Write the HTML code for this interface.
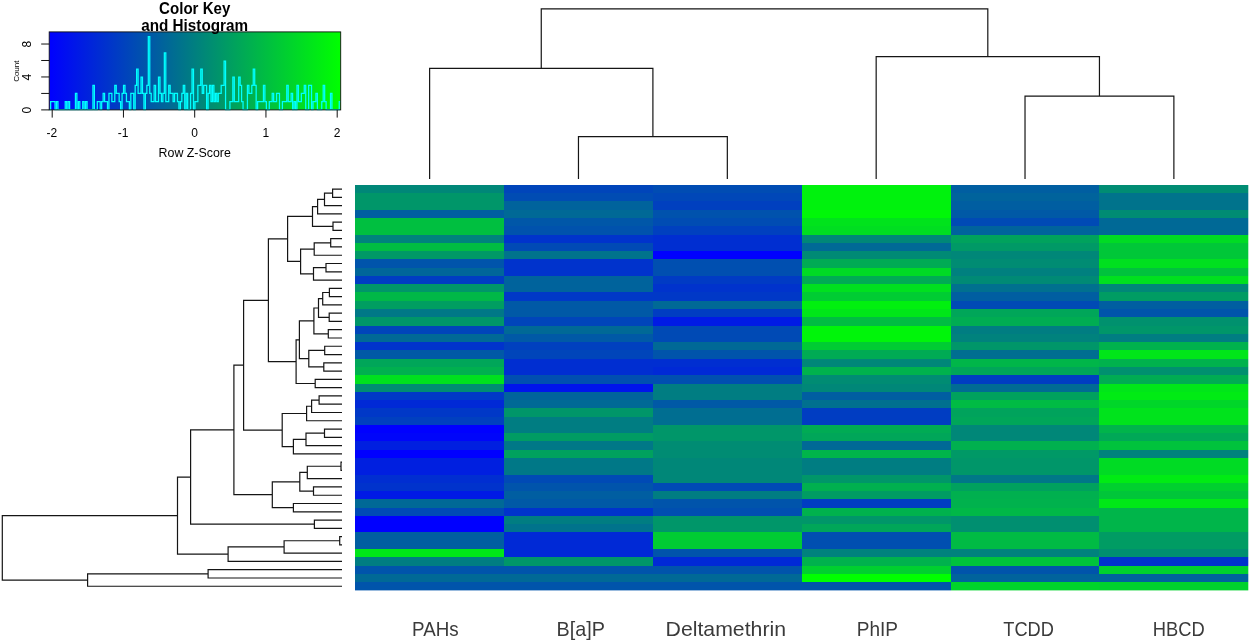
<!DOCTYPE html>
<html><head><meta charset="utf-8"><title>Heatmap</title>
<style>html,body{margin:0;padding:0;background:#fff;}body{width:1250px;height:641px;position:relative;overflow:hidden;font-family:"Liberation Sans",sans-serif;}</style></head>
<body>
<svg width="1250" height="641" viewBox="0 0 1250 641" style="position:absolute;left:0;top:0;will-change:transform">
<defs><linearGradient id="kg" x1="0" x2="1" y1="0" y2="0"><stop offset="0" stop-color="rgb(0,0,255)"/><stop offset="1" stop-color="rgb(0,255,0)"/></linearGradient></defs>
<rect x="49.2" y="31.9" width="291.5" height="78.0" fill="url(#kg)"/>
<path d="M49.20,109.60V109.60H50.66V101.50H52.12V101.50H53.57V101.50H55.03V109.60H56.49V101.50H57.95V109.60H59.40V109.60H60.86V109.60H62.32V109.60H63.78V109.60H65.23V101.50H66.69V109.60H68.15V101.50H69.61V109.60H71.06V109.60H72.52V109.60H73.98V109.60H75.44V93.40H76.89V109.60H78.35V101.50H79.81V109.60H81.27V109.60H82.72V101.50H84.18V109.60H85.64V101.50H87.09V109.60H88.55V109.60H90.01V109.60H91.47V109.60H92.92V85.30H94.38V109.60H95.84V109.60H97.30V101.50H98.76V101.50H100.21V109.60H101.67V101.50H103.13V93.40H104.58V101.50H106.04V101.50H107.50V109.60H108.96V93.40H110.42V93.40H111.87V101.50H113.33V101.50H114.79V85.30H116.25V93.40H117.70V93.40H119.16V101.50H120.62V109.60H122.08V93.40H123.53V85.30H124.99V93.40H126.45V101.50H127.91V101.50H129.36V109.60H130.82V93.40H132.28V93.40H133.74V109.60H135.19V85.30H136.65V69.10H138.11V93.40H139.57V93.40H141.02V77.20H142.48V93.40H143.94V109.60H145.40V93.40H146.85V85.30H148.31V36.70H149.77V93.40H151.22V101.50H152.68V101.50H154.14V85.30H155.60V101.50H157.06V101.50H158.51V77.20H159.97V93.40H161.43V101.50H162.89V93.40H164.34V52.90H165.80V101.50H167.26V101.50H168.72V85.30H170.17V93.40H171.63V93.40H173.09V101.50H174.55V93.40H176.00V93.40H177.46V101.50H178.92V109.60H180.38V101.50H181.83V93.40H183.29V85.30H184.75V109.60H186.21V93.40H187.66V109.60H189.12V109.60H190.58V93.40H192.03V69.10H193.49V109.60H194.95V101.50H196.41V101.50H197.87V85.30H199.32V85.30H200.78V69.10H202.24V93.40H203.70V85.30H205.15V85.30H206.61V109.60H208.07V93.40H209.53V85.30H210.98V101.50H212.44V85.30H213.90V101.50H215.35V93.40H216.81V101.50H218.27V93.40H219.73V93.40H221.19V85.30H222.64V85.30H224.10V61.00H225.56V109.60H227.02V109.60H228.47V109.60H229.93V101.50H231.39V101.50H232.84V77.20H234.30V101.50H235.76V101.50H237.22V101.50H238.68V77.20H240.13V85.30H241.59V101.50H243.05V109.60H244.51V109.60H245.96V109.60H247.42V85.30H248.88V93.40H250.34V93.40H251.79V85.30H253.25V69.10H254.71V85.30H256.16V109.60H257.62V101.50H259.08V101.50H260.54V101.50H262.00V101.50H263.45V85.30H264.91V101.50H266.37V109.60H267.82V109.60H269.28V101.50H270.74V101.50H272.20V93.40H273.65V101.50H275.11V101.50H276.57V93.40H278.03V93.40H279.49V109.60H280.94V109.60H282.40V101.50H283.86V101.50H285.31V101.50H286.77V85.30H288.23V101.50H289.69V101.50H291.14V93.40H292.60V109.60H294.06V101.50H295.52V109.60H296.97V85.30H298.43V101.50H299.89V101.50H301.35V93.40H302.81V93.40H304.26V85.30H305.72V109.60H307.18V109.60H308.63V85.30H310.09V85.30H311.55V109.60H313.01V101.50H314.46V101.50H315.92V93.40H317.38V109.60H318.84V109.60H320.29V109.60H321.75V101.50H323.21V85.30H324.67V101.50H326.12V109.60H327.58V109.60H329.04V109.60H330.50V93.40H331.95V109.60H333.41V109.60H334.87V109.60H336.33V109.60H337.78V109.60H339.24V101.50H340.70V101.50" fill="none" stroke="rgb(0,255,255)" stroke-width="1.25" stroke-linejoin="miter"/>
<rect x="49.2" y="31.9" width="291.5" height="78.0" fill="none" stroke="#111" stroke-width="0.9"/>
<g stroke="#111" stroke-width="1" fill="none">
<line x1="52.20" y1="109.9" x2="52.20" y2="117.6"/>
<line x1="123.45" y1="109.9" x2="123.45" y2="117.6"/>
<line x1="194.70" y1="109.9" x2="194.70" y2="117.6"/>
<line x1="265.95" y1="109.9" x2="265.95" y2="117.6"/>
<line x1="337.20" y1="109.9" x2="337.20" y2="117.6"/>
<line x1="41.2" y1="109.90" x2="49.2" y2="109.90"/>
<line x1="41.2" y1="93.43" x2="49.2" y2="93.43"/>
<line x1="41.2" y1="76.96" x2="49.2" y2="76.96"/>
<line x1="41.2" y1="60.49" x2="49.2" y2="60.49"/>
<line x1="41.2" y1="44.02" x2="49.2" y2="44.02"/>
</g>
<g font-family="Liberation Sans, sans-serif" font-size="12px" text-anchor="middle" fill="#000">
<text x="51.90" y="136.9">-2</text>
<text x="123.15" y="136.9">-1</text>
<text x="194.70" y="136.9">0</text>
<text x="265.95" y="136.9">1</text>
<text x="337.20" y="136.9">2</text>
<text x="194.7" y="156.7" font-size="12.4px">Row Z-Score</text>
<text transform="translate(31.3,110.10) rotate(-90)" x="0" y="0">0</text>
<text transform="translate(31.3,77.16) rotate(-90)" x="0" y="0">4</text>
<text transform="translate(31.3,44.22) rotate(-90)" x="0" y="0">8</text>
<text transform="translate(18.6,71.2) rotate(-90)" x="0" y="0" font-size="8px">Count</text>
</g>
<g font-family="Liberation Sans, sans-serif" font-weight="bold" font-size="16px" text-anchor="middle" fill="#000">
<text transform="translate(194.7,13.6) scale(1,0.975)" x="0" y="0" textLength="71.2" lengthAdjust="spacingAndGlyphs">Color Key</text><text transform="translate(194.6,31.3) scale(1,0.975)" x="0" y="0" textLength="106.8" lengthAdjust="spacingAndGlyphs">and Histogram</text></g>
<g shape-rendering="crispEdges">
<rect x="355.20" y="184.90" width="149.15" height="8.58" fill="rgb(0,135,120)"/>
<rect x="355.20" y="193.18" width="149.15" height="16.85" fill="rgb(0,150,105)"/>
<rect x="355.20" y="209.73" width="149.15" height="8.58" fill="rgb(0,94,161)"/>
<rect x="355.20" y="218.00" width="149.15" height="16.85" fill="rgb(0,191,64)"/>
<rect x="355.20" y="234.55" width="149.15" height="8.58" fill="rgb(0,130,125)"/>
<rect x="355.20" y="242.83" width="149.15" height="8.58" fill="rgb(0,189,66)"/>
<rect x="355.20" y="251.10" width="149.15" height="8.58" fill="rgb(0,153,102)"/>
<rect x="355.20" y="259.38" width="149.15" height="8.58" fill="rgb(0,84,171)"/>
<rect x="355.20" y="267.66" width="149.15" height="8.58" fill="rgb(0,102,153)"/>
<rect x="355.20" y="275.93" width="149.15" height="8.58" fill="rgb(0,61,194)"/>
<rect x="355.20" y="284.21" width="149.15" height="8.58" fill="rgb(0,150,105)"/>
<rect x="355.20" y="292.48" width="149.15" height="8.58" fill="rgb(0,184,71)"/>
<rect x="355.20" y="300.76" width="149.15" height="8.58" fill="rgb(0,158,97)"/>
<rect x="355.20" y="309.03" width="149.15" height="8.58" fill="rgb(0,120,135)"/>
<rect x="355.20" y="317.31" width="149.15" height="8.58" fill="rgb(0,150,105)"/>
<rect x="355.20" y="325.58" width="149.15" height="8.58" fill="rgb(0,69,186)"/>
<rect x="355.20" y="333.86" width="149.15" height="8.58" fill="rgb(0,105,150)"/>
<rect x="355.20" y="342.13" width="149.15" height="8.58" fill="rgb(0,51,204)"/>
<rect x="355.20" y="350.41" width="149.15" height="8.58" fill="rgb(0,89,166)"/>
<rect x="355.20" y="358.69" width="149.15" height="8.58" fill="rgb(0,166,89)"/>
<rect x="355.20" y="366.96" width="149.15" height="8.58" fill="rgb(0,176,79)"/>
<rect x="355.20" y="375.24" width="149.15" height="8.58" fill="rgb(0,224,31)"/>
<rect x="355.20" y="383.51" width="149.15" height="8.58" fill="rgb(0,140,115)"/>
<rect x="355.20" y="391.79" width="149.15" height="8.58" fill="rgb(0,56,199)"/>
<rect x="355.20" y="400.06" width="149.15" height="8.58" fill="rgb(0,41,214)"/>
<rect x="355.20" y="408.34" width="149.15" height="8.58" fill="rgb(0,56,199)"/>
<rect x="355.20" y="416.61" width="149.15" height="8.58" fill="rgb(0,64,191)"/>
<rect x="355.20" y="424.89" width="149.15" height="8.58" fill="rgb(0,0,255)"/>
<rect x="355.20" y="433.17" width="149.15" height="8.58" fill="rgb(0,5,250)"/>
<rect x="355.20" y="441.44" width="149.15" height="8.58" fill="rgb(0,31,224)"/>
<rect x="355.20" y="449.72" width="149.15" height="8.58" fill="rgb(0,0,255)"/>
<rect x="355.20" y="457.99" width="149.15" height="16.85" fill="rgb(0,31,224)"/>
<rect x="355.20" y="474.54" width="149.15" height="8.58" fill="rgb(0,46,209)"/>
<rect x="355.20" y="482.82" width="149.15" height="8.58" fill="rgb(0,51,204)"/>
<rect x="355.20" y="491.09" width="149.15" height="8.58" fill="rgb(0,26,229)"/>
<rect x="355.20" y="499.37" width="149.15" height="8.58" fill="rgb(0,105,150)"/>
<rect x="355.20" y="507.64" width="149.15" height="8.58" fill="rgb(0,74,181)"/>
<rect x="355.20" y="515.92" width="149.15" height="16.85" fill="rgb(0,0,255)"/>
<rect x="355.20" y="532.47" width="149.15" height="16.85" fill="rgb(0,94,161)"/>
<rect x="355.20" y="549.02" width="149.15" height="8.58" fill="rgb(0,230,25)"/>
<rect x="355.20" y="557.30" width="149.15" height="8.58" fill="rgb(0,125,130)"/>
<rect x="355.20" y="565.57" width="149.15" height="8.58" fill="rgb(0,84,171)"/>
<rect x="355.20" y="573.85" width="149.15" height="8.58" fill="rgb(0,105,150)"/>
<rect x="355.20" y="582.12" width="149.15" height="8.58" fill="rgb(0,84,171)"/>
<rect x="504.05" y="184.90" width="149.15" height="8.58" fill="rgb(0,69,186)"/>
<rect x="504.05" y="193.18" width="149.15" height="8.58" fill="rgb(0,76,179)"/>
<rect x="504.05" y="201.45" width="149.15" height="8.58" fill="rgb(0,99,156)"/>
<rect x="504.05" y="209.73" width="149.15" height="8.58" fill="rgb(0,105,150)"/>
<rect x="504.05" y="218.00" width="149.15" height="8.58" fill="rgb(0,87,168)"/>
<rect x="504.05" y="226.28" width="149.15" height="8.58" fill="rgb(0,82,173)"/>
<rect x="504.05" y="234.55" width="149.15" height="8.58" fill="rgb(0,51,204)"/>
<rect x="504.05" y="242.83" width="149.15" height="8.58" fill="rgb(0,74,181)"/>
<rect x="504.05" y="251.10" width="149.15" height="8.58" fill="rgb(0,115,140)"/>
<rect x="504.05" y="259.38" width="149.15" height="16.85" fill="rgb(0,51,204)"/>
<rect x="504.05" y="275.93" width="149.15" height="16.85" fill="rgb(0,99,156)"/>
<rect x="504.05" y="292.48" width="149.15" height="8.58" fill="rgb(0,56,199)"/>
<rect x="504.05" y="300.76" width="149.15" height="16.85" fill="rgb(0,89,166)"/>
<rect x="504.05" y="317.31" width="149.15" height="8.58" fill="rgb(0,69,186)"/>
<rect x="504.05" y="325.58" width="149.15" height="8.58" fill="rgb(0,105,150)"/>
<rect x="504.05" y="333.86" width="149.15" height="8.58" fill="rgb(0,89,166)"/>
<rect x="504.05" y="342.13" width="149.15" height="8.58" fill="rgb(0,64,191)"/>
<rect x="504.05" y="350.41" width="149.15" height="8.58" fill="rgb(0,69,186)"/>
<rect x="504.05" y="358.69" width="149.15" height="16.85" fill="rgb(0,46,209)"/>
<rect x="504.05" y="375.24" width="149.15" height="8.58" fill="rgb(0,79,176)"/>
<rect x="504.05" y="383.51" width="149.15" height="8.58" fill="rgb(0,20,235)"/>
<rect x="504.05" y="391.79" width="149.15" height="8.58" fill="rgb(0,99,156)"/>
<rect x="504.05" y="400.06" width="149.15" height="8.58" fill="rgb(0,105,150)"/>
<rect x="504.05" y="408.34" width="149.15" height="8.58" fill="rgb(0,150,105)"/>
<rect x="504.05" y="416.61" width="149.15" height="16.85" fill="rgb(0,125,130)"/>
<rect x="504.05" y="433.17" width="149.15" height="8.58" fill="rgb(0,156,99)"/>
<rect x="504.05" y="441.44" width="149.15" height="8.58" fill="rgb(0,120,135)"/>
<rect x="504.05" y="449.72" width="149.15" height="8.58" fill="rgb(0,161,94)"/>
<rect x="504.05" y="457.99" width="149.15" height="16.85" fill="rgb(0,120,135)"/>
<rect x="504.05" y="474.54" width="149.15" height="8.58" fill="rgb(0,74,181)"/>
<rect x="504.05" y="482.82" width="149.15" height="8.58" fill="rgb(0,84,171)"/>
<rect x="504.05" y="491.09" width="149.15" height="8.58" fill="rgb(0,94,161)"/>
<rect x="504.05" y="499.37" width="149.15" height="8.58" fill="rgb(0,89,166)"/>
<rect x="504.05" y="507.64" width="149.15" height="8.58" fill="rgb(0,51,204)"/>
<rect x="504.05" y="515.92" width="149.15" height="8.58" fill="rgb(0,125,130)"/>
<rect x="504.05" y="524.20" width="149.15" height="8.58" fill="rgb(0,115,140)"/>
<rect x="504.05" y="532.47" width="149.15" height="25.13" fill="rgb(0,41,214)"/>
<rect x="504.05" y="557.30" width="149.15" height="8.58" fill="rgb(0,150,105)"/>
<rect x="504.05" y="565.57" width="149.15" height="8.58" fill="rgb(0,84,171)"/>
<rect x="504.05" y="573.85" width="149.15" height="8.58" fill="rgb(0,105,150)"/>
<rect x="504.05" y="582.12" width="149.15" height="8.58" fill="rgb(0,84,171)"/>
<rect x="652.90" y="184.90" width="149.15" height="8.58" fill="rgb(0,76,179)"/>
<rect x="652.90" y="193.18" width="149.15" height="8.58" fill="rgb(0,71,184)"/>
<rect x="652.90" y="201.45" width="149.15" height="8.58" fill="rgb(0,64,191)"/>
<rect x="652.90" y="209.73" width="149.15" height="8.58" fill="rgb(0,82,173)"/>
<rect x="652.90" y="218.00" width="149.15" height="8.58" fill="rgb(0,76,179)"/>
<rect x="652.90" y="226.28" width="149.15" height="8.58" fill="rgb(0,64,191)"/>
<rect x="652.90" y="234.55" width="149.15" height="16.85" fill="rgb(0,46,209)"/>
<rect x="652.90" y="251.10" width="149.15" height="8.58" fill="rgb(0,0,255)"/>
<rect x="652.90" y="259.38" width="149.15" height="16.85" fill="rgb(0,79,176)"/>
<rect x="652.90" y="275.93" width="149.15" height="8.58" fill="rgb(0,59,196)"/>
<rect x="652.90" y="284.21" width="149.15" height="8.58" fill="rgb(0,51,204)"/>
<rect x="652.90" y="292.48" width="149.15" height="8.58" fill="rgb(0,56,199)"/>
<rect x="652.90" y="300.76" width="149.15" height="8.58" fill="rgb(0,105,150)"/>
<rect x="652.90" y="309.03" width="149.15" height="8.58" fill="rgb(0,61,194)"/>
<rect x="652.90" y="317.31" width="149.15" height="8.58" fill="rgb(0,26,229)"/>
<rect x="652.90" y="325.58" width="149.15" height="16.85" fill="rgb(0,74,181)"/>
<rect x="652.90" y="342.13" width="149.15" height="8.58" fill="rgb(0,105,150)"/>
<rect x="652.90" y="350.41" width="149.15" height="8.58" fill="rgb(0,84,171)"/>
<rect x="652.90" y="358.69" width="149.15" height="8.58" fill="rgb(0,46,209)"/>
<rect x="652.90" y="366.96" width="149.15" height="8.58" fill="rgb(0,41,214)"/>
<rect x="652.90" y="375.24" width="149.15" height="8.58" fill="rgb(0,79,176)"/>
<rect x="652.90" y="383.51" width="149.15" height="16.85" fill="rgb(0,125,130)"/>
<rect x="652.90" y="400.06" width="149.15" height="8.58" fill="rgb(0,89,166)"/>
<rect x="652.90" y="408.34" width="149.15" height="16.85" fill="rgb(0,110,145)"/>
<rect x="652.90" y="424.89" width="149.15" height="16.85" fill="rgb(0,150,105)"/>
<rect x="652.90" y="441.44" width="149.15" height="16.85" fill="rgb(0,140,115)"/>
<rect x="652.90" y="457.99" width="149.15" height="25.13" fill="rgb(0,135,120)"/>
<rect x="652.90" y="482.82" width="149.15" height="8.58" fill="rgb(0,74,181)"/>
<rect x="652.90" y="491.09" width="149.15" height="8.58" fill="rgb(0,125,130)"/>
<rect x="652.90" y="499.37" width="149.15" height="8.58" fill="rgb(0,84,171)"/>
<rect x="652.90" y="507.64" width="149.15" height="8.58" fill="rgb(0,79,176)"/>
<rect x="652.90" y="515.92" width="149.15" height="16.85" fill="rgb(0,150,105)"/>
<rect x="652.90" y="532.47" width="149.15" height="16.85" fill="rgb(0,204,51)"/>
<rect x="652.90" y="549.02" width="149.15" height="8.58" fill="rgb(0,84,171)"/>
<rect x="652.90" y="557.30" width="149.15" height="8.58" fill="rgb(0,41,214)"/>
<rect x="652.90" y="565.57" width="149.15" height="8.58" fill="rgb(0,84,171)"/>
<rect x="652.90" y="573.85" width="149.15" height="8.58" fill="rgb(0,105,150)"/>
<rect x="652.90" y="582.12" width="149.15" height="8.58" fill="rgb(0,84,171)"/>
<rect x="801.75" y="184.90" width="149.15" height="25.13" fill="rgb(0,242,13)"/>
<rect x="801.75" y="209.73" width="149.15" height="8.58" fill="rgb(0,247,8)"/>
<rect x="801.75" y="218.00" width="149.15" height="8.58" fill="rgb(0,227,28)"/>
<rect x="801.75" y="226.28" width="149.15" height="8.58" fill="rgb(0,222,33)"/>
<rect x="801.75" y="234.55" width="149.15" height="8.58" fill="rgb(0,135,120)"/>
<rect x="801.75" y="242.83" width="149.15" height="8.58" fill="rgb(0,105,150)"/>
<rect x="801.75" y="251.10" width="149.15" height="8.58" fill="rgb(0,138,117)"/>
<rect x="801.75" y="259.38" width="149.15" height="8.58" fill="rgb(0,171,84)"/>
<rect x="801.75" y="267.66" width="149.15" height="8.58" fill="rgb(0,218,37)"/>
<rect x="801.75" y="275.93" width="149.15" height="8.58" fill="rgb(0,171,84)"/>
<rect x="801.75" y="284.21" width="149.15" height="8.58" fill="rgb(0,224,31)"/>
<rect x="801.75" y="292.48" width="149.15" height="8.58" fill="rgb(0,204,51)"/>
<rect x="801.75" y="300.76" width="149.15" height="8.58" fill="rgb(0,240,15)"/>
<rect x="801.75" y="309.03" width="149.15" height="8.58" fill="rgb(0,230,25)"/>
<rect x="801.75" y="317.31" width="149.15" height="8.58" fill="rgb(0,189,66)"/>
<rect x="801.75" y="325.58" width="149.15" height="16.85" fill="rgb(0,245,10)"/>
<rect x="801.75" y="342.13" width="149.15" height="8.58" fill="rgb(0,204,51)"/>
<rect x="801.75" y="350.41" width="149.15" height="8.58" fill="rgb(0,171,84)"/>
<rect x="801.75" y="358.69" width="149.15" height="8.58" fill="rgb(0,135,120)"/>
<rect x="801.75" y="366.96" width="149.15" height="8.58" fill="rgb(0,178,77)"/>
<rect x="801.75" y="375.24" width="149.15" height="8.58" fill="rgb(0,140,115)"/>
<rect x="801.75" y="383.51" width="149.15" height="8.58" fill="rgb(0,135,120)"/>
<rect x="801.75" y="391.79" width="149.15" height="8.58" fill="rgb(0,94,161)"/>
<rect x="801.75" y="400.06" width="149.15" height="8.58" fill="rgb(0,112,143)"/>
<rect x="801.75" y="408.34" width="149.15" height="16.85" fill="rgb(0,61,194)"/>
<rect x="801.75" y="424.89" width="149.15" height="8.58" fill="rgb(0,171,84)"/>
<rect x="801.75" y="433.17" width="149.15" height="8.58" fill="rgb(0,166,89)"/>
<rect x="801.75" y="441.44" width="149.15" height="8.58" fill="rgb(0,105,150)"/>
<rect x="801.75" y="449.72" width="149.15" height="8.58" fill="rgb(0,181,74)"/>
<rect x="801.75" y="457.99" width="149.15" height="16.85" fill="rgb(0,125,130)"/>
<rect x="801.75" y="474.54" width="149.15" height="8.58" fill="rgb(0,150,105)"/>
<rect x="801.75" y="482.82" width="149.15" height="8.58" fill="rgb(0,176,79)"/>
<rect x="801.75" y="491.09" width="149.15" height="8.58" fill="rgb(0,156,99)"/>
<rect x="801.75" y="499.37" width="149.15" height="8.58" fill="rgb(0,61,194)"/>
<rect x="801.75" y="507.64" width="149.15" height="8.58" fill="rgb(0,178,77)"/>
<rect x="801.75" y="515.92" width="149.15" height="8.58" fill="rgb(0,150,105)"/>
<rect x="801.75" y="524.20" width="149.15" height="8.58" fill="rgb(0,166,89)"/>
<rect x="801.75" y="532.47" width="149.15" height="16.85" fill="rgb(0,79,176)"/>
<rect x="801.75" y="549.02" width="149.15" height="8.58" fill="rgb(0,130,125)"/>
<rect x="801.75" y="557.30" width="149.15" height="8.58" fill="rgb(0,178,77)"/>
<rect x="801.75" y="565.57" width="149.15" height="8.58" fill="rgb(0,208,47)"/>
<rect x="801.75" y="573.85" width="149.15" height="8.58" fill="rgb(0,255,0)"/>
<rect x="801.75" y="582.12" width="149.15" height="8.58" fill="rgb(0,84,171)"/>
<rect x="950.60" y="184.90" width="149.15" height="8.58" fill="rgb(0,94,161)"/>
<rect x="950.60" y="193.18" width="149.15" height="8.58" fill="rgb(0,99,156)"/>
<rect x="950.60" y="201.45" width="149.15" height="8.58" fill="rgb(0,94,161)"/>
<rect x="950.60" y="209.73" width="149.15" height="8.58" fill="rgb(0,89,166)"/>
<rect x="950.60" y="218.00" width="149.15" height="8.58" fill="rgb(0,74,181)"/>
<rect x="950.60" y="226.28" width="149.15" height="8.58" fill="rgb(0,99,156)"/>
<rect x="950.60" y="234.55" width="149.15" height="8.58" fill="rgb(0,162,93)"/>
<rect x="950.60" y="242.83" width="149.15" height="8.58" fill="rgb(0,153,102)"/>
<rect x="950.60" y="251.10" width="149.15" height="8.58" fill="rgb(0,135,120)"/>
<rect x="950.60" y="259.38" width="149.15" height="8.58" fill="rgb(0,140,115)"/>
<rect x="950.60" y="267.66" width="149.15" height="8.58" fill="rgb(0,128,127)"/>
<rect x="950.60" y="275.93" width="149.15" height="8.58" fill="rgb(0,138,117)"/>
<rect x="950.60" y="284.21" width="149.15" height="8.58" fill="rgb(0,112,143)"/>
<rect x="950.60" y="292.48" width="149.15" height="8.58" fill="rgb(0,94,161)"/>
<rect x="950.60" y="300.76" width="149.15" height="8.58" fill="rgb(0,74,181)"/>
<rect x="950.60" y="309.03" width="149.15" height="8.58" fill="rgb(0,166,89)"/>
<rect x="950.60" y="317.31" width="149.15" height="8.58" fill="rgb(0,173,82)"/>
<rect x="950.60" y="325.58" width="149.15" height="8.58" fill="rgb(0,125,130)"/>
<rect x="950.60" y="333.86" width="149.15" height="8.58" fill="rgb(0,130,125)"/>
<rect x="950.60" y="342.13" width="149.15" height="8.58" fill="rgb(0,150,105)"/>
<rect x="950.60" y="350.41" width="149.15" height="8.58" fill="rgb(0,110,145)"/>
<rect x="950.60" y="358.69" width="149.15" height="8.58" fill="rgb(0,182,73)"/>
<rect x="950.60" y="366.96" width="149.15" height="8.58" fill="rgb(0,166,89)"/>
<rect x="950.60" y="375.24" width="149.15" height="8.58" fill="rgb(0,61,194)"/>
<rect x="950.60" y="383.51" width="149.15" height="8.58" fill="rgb(0,107,148)"/>
<rect x="950.60" y="391.79" width="149.15" height="8.58" fill="rgb(0,161,94)"/>
<rect x="950.60" y="400.06" width="149.15" height="8.58" fill="rgb(0,187,68)"/>
<rect x="950.60" y="408.34" width="149.15" height="8.58" fill="rgb(0,163,92)"/>
<rect x="950.60" y="416.61" width="149.15" height="8.58" fill="rgb(0,166,89)"/>
<rect x="950.60" y="424.89" width="149.15" height="16.85" fill="rgb(0,135,120)"/>
<rect x="950.60" y="441.44" width="149.15" height="8.58" fill="rgb(0,176,79)"/>
<rect x="950.60" y="449.72" width="149.15" height="8.58" fill="rgb(0,153,102)"/>
<rect x="950.60" y="457.99" width="149.15" height="16.85" fill="rgb(0,150,105)"/>
<rect x="950.60" y="474.54" width="149.15" height="8.58" fill="rgb(0,119,136)"/>
<rect x="950.60" y="482.82" width="149.15" height="8.58" fill="rgb(0,161,94)"/>
<rect x="950.60" y="491.09" width="149.15" height="8.58" fill="rgb(0,176,79)"/>
<rect x="950.60" y="499.37" width="149.15" height="8.58" fill="rgb(0,178,77)"/>
<rect x="950.60" y="507.64" width="149.15" height="8.58" fill="rgb(0,184,71)"/>
<rect x="950.60" y="515.92" width="149.15" height="16.85" fill="rgb(0,143,112)"/>
<rect x="950.60" y="532.47" width="149.15" height="16.85" fill="rgb(0,187,68)"/>
<rect x="950.60" y="549.02" width="149.15" height="8.58" fill="rgb(0,130,125)"/>
<rect x="950.60" y="557.30" width="149.15" height="8.58" fill="rgb(0,195,60)"/>
<rect x="950.60" y="565.57" width="149.15" height="8.58" fill="rgb(0,84,171)"/>
<rect x="950.60" y="573.85" width="149.15" height="8.58" fill="rgb(0,99,156)"/>
<rect x="950.60" y="582.12" width="149.15" height="8.58" fill="rgb(0,212,43)"/>
<rect x="1099.45" y="184.90" width="149.15" height="8.58" fill="rgb(0,140,115)"/>
<rect x="1099.45" y="193.18" width="149.15" height="16.85" fill="rgb(0,115,140)"/>
<rect x="1099.45" y="209.73" width="149.15" height="8.58" fill="rgb(0,140,115)"/>
<rect x="1099.45" y="218.00" width="149.15" height="16.85" fill="rgb(0,105,150)"/>
<rect x="1099.45" y="234.55" width="149.15" height="8.58" fill="rgb(0,219,36)"/>
<rect x="1099.45" y="242.83" width="149.15" height="16.85" fill="rgb(0,199,56)"/>
<rect x="1099.45" y="259.38" width="149.15" height="8.58" fill="rgb(0,224,31)"/>
<rect x="1099.45" y="267.66" width="149.15" height="8.58" fill="rgb(0,194,61)"/>
<rect x="1099.45" y="275.93" width="149.15" height="8.58" fill="rgb(0,224,31)"/>
<rect x="1099.45" y="284.21" width="149.15" height="8.58" fill="rgb(0,135,120)"/>
<rect x="1099.45" y="292.48" width="149.15" height="8.58" fill="rgb(0,156,99)"/>
<rect x="1099.45" y="300.76" width="149.15" height="8.58" fill="rgb(0,94,161)"/>
<rect x="1099.45" y="309.03" width="149.15" height="8.58" fill="rgb(0,84,171)"/>
<rect x="1099.45" y="317.31" width="149.15" height="8.58" fill="rgb(0,145,110)"/>
<rect x="1099.45" y="325.58" width="149.15" height="8.58" fill="rgb(0,150,105)"/>
<rect x="1099.45" y="333.86" width="149.15" height="8.58" fill="rgb(0,125,130)"/>
<rect x="1099.45" y="342.13" width="149.15" height="8.58" fill="rgb(0,178,77)"/>
<rect x="1099.45" y="350.41" width="149.15" height="8.58" fill="rgb(0,230,25)"/>
<rect x="1099.45" y="358.69" width="149.15" height="8.58" fill="rgb(0,178,77)"/>
<rect x="1099.45" y="366.96" width="149.15" height="8.58" fill="rgb(0,144,111)"/>
<rect x="1099.45" y="375.24" width="149.15" height="8.58" fill="rgb(0,172,83)"/>
<rect x="1099.45" y="383.51" width="149.15" height="8.58" fill="rgb(0,230,25)"/>
<rect x="1099.45" y="391.79" width="149.15" height="8.58" fill="rgb(0,235,20)"/>
<rect x="1099.45" y="400.06" width="149.15" height="8.58" fill="rgb(0,214,41)"/>
<rect x="1099.45" y="408.34" width="149.15" height="16.85" fill="rgb(0,227,28)"/>
<rect x="1099.45" y="424.89" width="149.15" height="8.58" fill="rgb(0,180,75)"/>
<rect x="1099.45" y="433.17" width="149.15" height="8.58" fill="rgb(0,168,87)"/>
<rect x="1099.45" y="441.44" width="149.15" height="8.58" fill="rgb(0,195,60)"/>
<rect x="1099.45" y="449.72" width="149.15" height="8.58" fill="rgb(0,130,125)"/>
<rect x="1099.45" y="457.99" width="149.15" height="16.85" fill="rgb(0,219,36)"/>
<rect x="1099.45" y="474.54" width="149.15" height="8.58" fill="rgb(0,235,20)"/>
<rect x="1099.45" y="482.82" width="149.15" height="8.58" fill="rgb(0,208,47)"/>
<rect x="1099.45" y="491.09" width="149.15" height="8.58" fill="rgb(0,198,57)"/>
<rect x="1099.45" y="499.37" width="149.15" height="8.58" fill="rgb(0,232,23)"/>
<rect x="1099.45" y="507.64" width="149.15" height="25.13" fill="rgb(0,181,74)"/>
<rect x="1099.45" y="532.47" width="149.15" height="16.85" fill="rgb(0,156,99)"/>
<rect x="1099.45" y="549.02" width="149.15" height="8.58" fill="rgb(0,143,112)"/>
<rect x="1099.45" y="557.30" width="149.15" height="8.58" fill="rgb(0,51,204)"/>
<rect x="1099.45" y="565.57" width="149.15" height="8.58" fill="rgb(0,210,45)"/>
<rect x="1099.45" y="573.85" width="149.15" height="8.58" fill="rgb(0,99,156)"/>
<rect x="1099.45" y="582.12" width="149.15" height="8.58" fill="rgb(0,210,45)"/>
</g>
<rect x="1248.3" y="183.9" width="1.7000000000000455" height="408.5" fill="#fff"/>
<rect x="354.2" y="590.4" width="896.0999999999999" height="3" fill="#fff"/>
<path d="M578.47,178.30V136.60M578.47,136.60H727.33M727.33,136.60V178.30M429.62,178.30V68.40M429.62,68.40H652.90M652.90,68.40V136.60M1025.02,178.30V96.10M1025.02,96.10H1173.88M1173.88,96.10V178.30M876.17,178.30V56.70M876.17,56.70H1099.45M1099.45,56.70V96.10M541.26,68.40V8.90M541.26,8.90H987.81M987.81,8.90V56.70" fill="none" stroke="#151515" stroke-width="1.2" stroke-linecap="square"/>
<path d="M332.60,189.04H341.40M332.60,197.31H341.40M332.60,189.04V197.31M324.50,193.18H332.60M324.50,205.59H341.40M324.50,193.18V205.59M317.60,199.38H324.50M317.60,213.86H341.40M317.60,199.38V213.86M333.00,222.14H341.40M333.00,230.42H341.40M333.00,222.14V230.42M312.50,206.62H317.60M312.50,226.28H333.00M312.50,206.62V226.28M330.70,238.69H341.40M330.70,246.97H341.40M330.70,238.69V246.97M314.20,242.83H330.70M314.20,255.24H341.40M314.20,242.83V255.24M326.00,263.52H341.40M326.00,271.79H341.40M326.00,263.52V271.79M313.50,267.66H326.00M313.50,280.07H341.40M313.50,267.66V280.07M300.60,249.04H314.20M300.60,273.86H313.50M300.60,249.04V273.86M287.60,216.45H312.50M287.60,261.45H300.60M287.60,216.45V261.45M329.40,288.34H341.40M329.40,296.62H341.40M329.40,288.34V296.62M322.70,292.48H329.40M322.70,304.89H341.40M322.70,292.48V304.89M329.20,313.17H341.40M329.20,321.45H341.40M329.20,313.17V321.45M318.50,298.69H322.70M318.50,317.31H329.20M318.50,298.69V317.31M328.30,329.72H341.40M328.30,338.00H341.40M328.30,329.72V338.00M313.90,308.00H318.50M313.90,333.86H328.30M313.90,308.00V333.86M324.70,346.27H341.40M324.70,354.55H341.40M324.70,346.27V354.55M323.80,362.82H341.40M323.80,371.10H341.40M323.80,362.82V371.10M308.80,350.41H324.70M308.80,366.96H323.80M308.80,350.41V366.96M299.40,320.93H313.90M299.40,358.69H308.80M299.40,320.93V358.69M315.20,379.37H341.40M315.20,387.65H341.40M315.20,379.37V387.65M296.10,339.81H299.40M296.10,383.51H315.20M296.10,339.81V383.51M268.40,238.95H287.60M268.40,361.66H296.10M268.40,238.95V361.66M319.10,395.93H341.40M319.10,404.20H341.40M319.10,395.93V404.20M311.60,400.06H319.10M311.60,412.48H341.40M311.60,400.06V412.48M306.60,406.27H311.60M306.60,420.75H341.40M306.60,406.27V420.75M324.50,429.03H341.40M324.50,437.30H341.40M324.50,429.03V437.30M306.00,433.17H324.50M306.00,445.58H341.40M306.00,433.17V445.58M293.40,439.37H306.00M293.40,453.85H341.40M293.40,439.37V453.85M282.20,413.51H306.60M282.20,446.61H293.40M282.20,413.51V446.61M243.60,300.30H268.40M243.60,430.06H282.20M243.60,300.30V430.06M341.00,462.13H341.40M341.00,470.41H341.40M341.00,462.13V470.41M307.30,466.27H341.00M307.30,478.68H341.40M307.30,466.27V478.68M313.50,486.96H341.40M313.50,495.23H341.40M313.50,486.96V495.23M299.80,472.47H307.30M299.80,491.09H313.50M299.80,472.47V491.09M293.40,503.51H341.40M293.40,511.78H341.40M293.40,503.51V511.78M272.30,481.78H299.80M272.30,507.64H293.40M272.30,481.78V507.64M233.90,365.18H243.60M233.90,494.71H272.30M233.90,365.18V494.71M314.40,520.06H341.40M314.40,528.33H341.40M314.40,520.06V528.33M190.60,429.95H233.90M190.60,524.20H314.40M190.60,429.95V524.20M339.70,536.61H341.40M339.70,544.88H341.40M339.70,536.61V544.88M284.10,540.75H339.70M284.10,553.16H341.40M284.10,540.75V553.16M228.10,546.95H284.10M228.10,561.44H341.40M228.10,546.95V561.44M177.50,477.07H190.60M177.50,554.19H228.10M177.50,477.07V554.19M208.10,569.71H341.40M208.10,577.99H341.40M208.10,569.71V577.99M87.60,573.85H208.10M87.60,586.26H341.40M87.60,573.85V586.26M2.30,515.63H177.50M2.30,580.06H87.60M2.30,515.63V580.06" fill="none" stroke="#151515" stroke-width="1.2" stroke-linecap="square"/>
<g font-family="Liberation Sans, sans-serif" font-size="20.8px" fill="#3b3b3b">
<text x="412.0" y="635.7" textLength="46.6" lengthAdjust="spacingAndGlyphs">PAHs</text>
<text x="556.5" y="635.7" textLength="48.4" lengthAdjust="spacingAndGlyphs">B[a]P</text>
<text x="665.6" y="635.7" textLength="120.4" lengthAdjust="spacingAndGlyphs">Deltamethrin</text>
<text x="856.8" y="635.7" textLength="41.2" lengthAdjust="spacingAndGlyphs">PhIP</text>
<text x="1003.3" y="635.7" textLength="50.6" lengthAdjust="spacingAndGlyphs">TCDD</text>
<text x="1152.7" y="635.7" textLength="52.0" lengthAdjust="spacingAndGlyphs">HBCD</text>
</g>
</svg>
</body></html>
